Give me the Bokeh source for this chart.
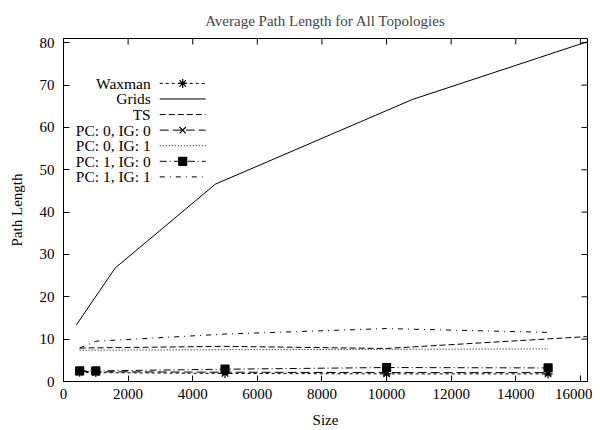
import math
from bokeh.plotting import figure
from bokeh.models import FixedTicker, Range1d
from bokeh.core.properties import value
from bokeh.embed import file_html
from bokeh.resources import INLINE

# ---- data ----
grids_x = [400, 1600, 4700, 10800, 16200]
grids_y = [13.4, 26.8, 46.6, 66.6, 80.2]
ts_x = [500, 5000, 10000, 16200]
ts_y = [7.9, 8.3, 7.8, 10.6]
sizes = [500, 1000, 5000, 10000, 15000]
waxman = [2.2, 2.1, 1.9, 1.8, 1.8]
pc0_ig0 = [2.4, 2.3, 2.2, 2.1, 2.1]
pc0_ig1 = [7.4, 7.4, 7.5, 7.6, 7.7]
pc1_ig0 = [2.5, 2.5, 2.9, 3.3, 3.2]
pc1_ig1 = [7.9, 9.5, 11.2, 12.5, 11.6]
x_ticks = [0, 2000, 4000, 6000, 8000, 10000, 12000, 14000, 16000]
y_ticks = [0, 10, 20, 30, 40, 50, 60, 70, 80]
labels = ["Waxman", "Grids", "TS", "PC: 0, IG: 0", "PC: 0, IG: 1", "PC: 1, IG: 0", "PC: 1, IG: 1"]

FONT = "Liberation Serif"
FS = "15px"
X_MAX, Y_MAX = 16220, 81

p = figure(width=592, height=430, output_backend="svg", toolbar_location=None,
           x_range=Range1d(0, X_MAX), y_range=Range1d(0, Y_MAX),
           min_border_left=63, min_border_right=5, min_border_top=38, min_border_bottom=48,
           title="Average Path Length for All Topologies")
p.title.align = "center"
p.title.text_font = FONT
p.title.text_font_size = FS
p.title.text_font_style = "normal"
p.title.standoff = 20
p.grid.visible = False
p.outline_line_color = "black"
p.outline_line_width = 1
p.background_fill_color = "white"
p.border_fill_color = "white"

p.xaxis.ticker = FixedTicker(ticks=x_ticks)
p.xaxis.axis_label = "Size"
p.yaxis.ticker = FixedTicker(ticks=y_ticks)
p.yaxis.axis_label = "Path Length"

for ax in p.xaxis + p.yaxis:
    ax.major_tick_in = 6
    ax.major_tick_out = 0
    ax.minor_tick_in = 0
    ax.minor_tick_out = 0
    ax.axis_line_color = "black"
    ax.major_tick_line_color = "black"
    ax.major_label_text_font = FONT
    ax.major_label_text_font_size = FS
    ax.major_label_text_color = "black"
    ax.axis_label_text_font = FONT
    ax.axis_label_text_font_size = FS
    ax.axis_label_text_font_style = "normal"
    ax.axis_label_text_color = "black"
p.xaxis.major_label_standoff = 7
p.xaxis.axis_label_standoff = 10
p.yaxis.major_label_standoff = 9
p.yaxis.axis_label_standoff = 12

# mirrored ticks on top and right (inward, gnuplot style)
p.ray(x=x_ticks, y=[Y_MAX] * len(x_ticks), angle=-math.pi / 2, length=6,
      length_units="screen", line_color="black", line_width=1)
p.ray(x=[X_MAX] * len(y_ticks), y=y_ticks, angle=math.pi, length=6,
      length_units="screen", line_color="black", line_width=1)

# ---- series ----
styles = {
    "Waxman": dict(line_dash="3 3"),
    "Grids": dict(line_dash="solid"),
    "TS": dict(line_dash="6 3"),
    "PC: 0, IG: 0": dict(line_dash="9 4"),
    "PC: 0, IG: 1": dict(line_dash="1 2"),
    "PC: 1, IG: 0": dict(line_dash="7 3 1 3"),
    "PC: 1, IG: 1": dict(line_dash="5 5 1 5"),
}
markers = {"Waxman": "asterisk", "PC: 0, IG: 0": "x", "PC: 1, IG: 0": "square"}
msize = {"asterisk": 9, "x": 9, "square": 8}

series = {
    "Waxman": (sizes, waxman),
    "Grids": (grids_x, grids_y),
    "TS": (ts_x, ts_y),
    "PC: 0, IG: 0": (sizes, pc0_ig0),
    "PC: 0, IG: 1": (sizes, pc0_ig1),
    "PC: 1, IG: 0": (sizes, pc1_ig0),
    "PC: 1, IG: 1": (sizes, pc1_ig1),
}

def draw(name, xs, ys):
    p.line(xs, ys, line_color="black", line_width=1, **styles[name])
    if name in markers:
        m = markers[name]
        p.scatter(xs, ys, marker=m, size=msize[m], line_color="black",
                  fill_color="black", line_width=1.2)

for name in labels:
    xs, ys = series[name]
    draw(name, xs, ys)

# ---- legend (gnuplot style: text right-aligned, sample at right) ----
LEG_TEXT_X = 2700
LEG_S0, LEG_S1 = 2980, 4400
LEG_Y0, LEG_DY = 70.4, 3.68
for i, name in enumerate(labels):
    y = LEG_Y0 - i * LEG_DY
    p.text(x=[LEG_TEXT_X], y=[y], text=[name], text_align="right", text_baseline="middle",
           text_font=value(FONT), text_font_size="15.5px", text_color="black")
    p.line([LEG_S0, LEG_S1], [y, y], line_color="black", line_width=1, **styles[name])
    if name in markers:
        m = markers[name]
        p.scatter([(LEG_S0 + LEG_S1) / 2], [y], marker=m, size=msize[m], line_color="black",
                  fill_color="black", line_width=1.2)

open("out.html", "w").write(file_html(p, INLINE))
